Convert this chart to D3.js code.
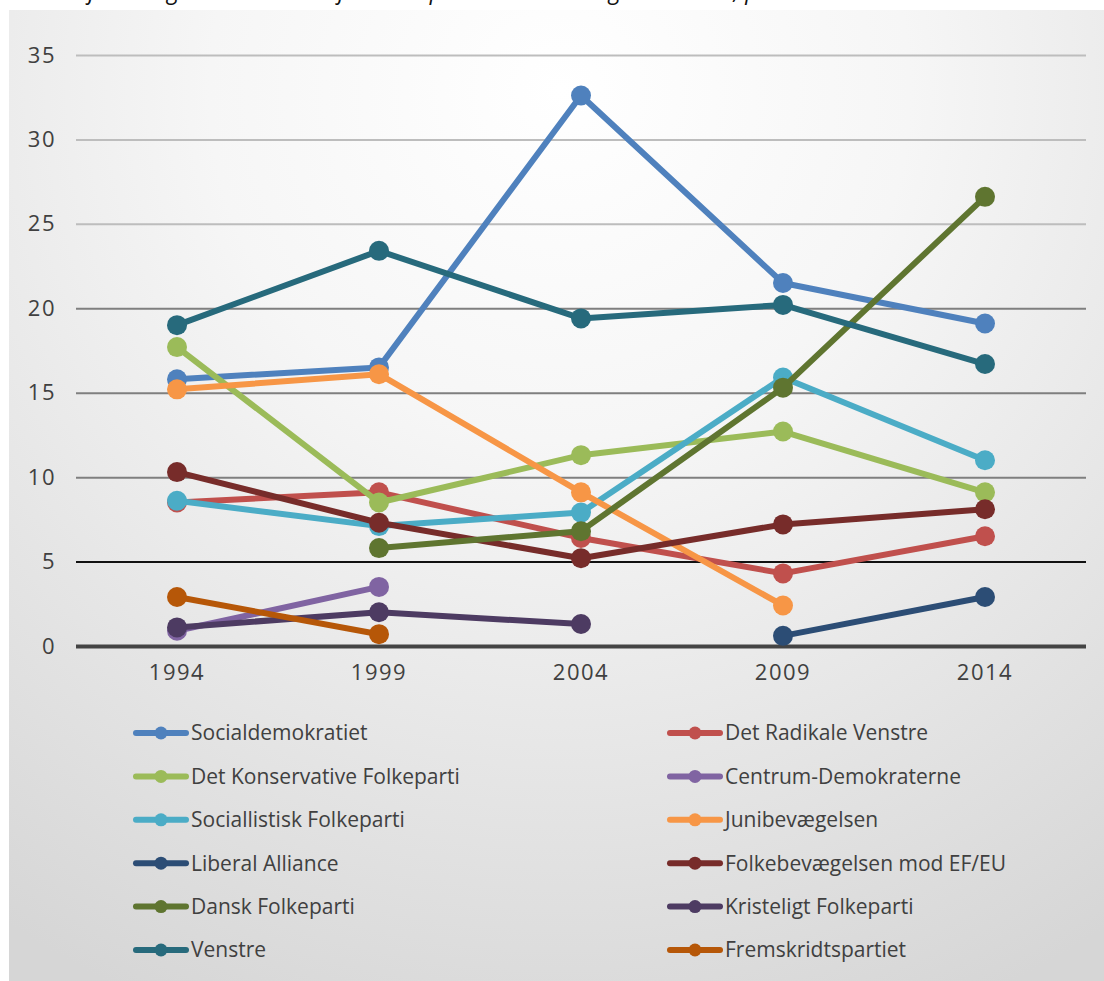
<!DOCTYPE html>
<html>
<head>
<meta charset="utf-8">
<script src="https://cdnjs.cloudflare.com/ajax/libs/d3/7.8.5/d3.min.js"></script>
<style>
  html, body { margin: 0; padding: 0; background: #fff; }
  svg { display: block; }
</style>
</head>
<body>
<div id="chart"></div>
<script>
// data
const years = ['1994', '1999', '2004', '2009', '2014'];
const yTicks = [0, 5, 10, 15, 20, 25, 30, 35];

const parties = [
  'Socialdemokratiet', 'Det Radikale Venstre', 'Det Konservative Folkeparti',
  'Centrum-Demokraterne', 'Sociallistisk Folkeparti', 'Junibevægelsen',
  'Liberal Alliance', 'Folkebevægelsen mod EF/EU', 'Dansk Folkeparti',
  'Kristeligt Folkeparti', 'Venstre', 'Fremskridtspartiet'
];

// one value per year, null where the party did not run
const socialdemokratiet = [15.8, 16.5, 32.6, 21.5, 19.1];
const radikaleVenstre   = [8.5, 9.1, 6.4, 4.3, 6.5];
const konservative      = [17.7, 8.5, 11.3, 12.7, 9.1];
const centrumDemokrater = [0.9, 3.5, null, null, null];
const sf                = [8.6, 7.1, 7.9, 15.9, 11.0];
const junibevaegelsen   = [15.2, 16.1, 9.1, 2.4, null];
const liberalAlliance   = [null, null, null, 0.6, 2.9];
const folkebevaegelsen  = [10.3, 7.3, 5.2, 7.2, 8.1];
const danskFolkeparti   = [null, 5.8, 6.8, 15.3, 26.6];
const kristeligt        = [1.1, 2.0, 1.3, null, null];
const venstre           = [19.0, 23.4, 19.4, 20.2, 16.7];
const fremskridt        = [2.9, 0.7, null, null, null];

const seriesValues = [
  socialdemokratiet, radikaleVenstre, konservative, centrumDemokrater, sf,
  junibevaegelsen, liberalAlliance, folkebevaegelsen, danskFolkeparti,
  kristeligt, venstre, fremskridt
];

const colors = [
  '#4f81bd', '#c0504d', '#9bbb59', '#8064a2', '#4bacc6', '#f79646',
  '#2c4d75', '#772c2a', '#5f7530', '#4d3b62', '#276a7c', '#b65708'
];

const width = 1104, height = 981;

const svg = d3.select('#chart').append('svg')
    .attr('width', width)
    .attr('height', height);

// background panel with soft radial shading
const defs = svg.append('defs');
const grad = defs.append('radialGradient')
    .attr('id', 'bg')
    .attr('gradientUnits', 'userSpaceOnUse')
    .attr('cx', 560).attr('cy', 90).attr('r', 1000);
grad.append('stop').attr('offset', '0%').attr('stop-color', '#ffffff');
grad.append('stop').attr('offset', '35%').attr('stop-color', '#f6f6f6');
grad.append('stop').attr('offset', '100%').attr('stop-color', '#d6d6d6');

svg.append('rect')
    .attr('x', 9).attr('y', 10)
    .attr('width', width - 9).attr('height', height - 10)
    .attr('fill', 'url(#bg)');

// title, cut off by the top of the picture like in the source
svg.append('text')
    .attr('x', 6).attr('y', -1)
    .attr('font-family', 'Open Sans, sans-serif')
    .attr('font-style', 'italic')
    .attr('font-size', 23)
    .attr('fill', '#111')
    .text('Stemmefordeling ved de seneste fem Europa-Parlamentsvalg i Danmark, pct.');

const x = d3.scaleBand().domain(years).range([76, 1086]);
const y = d3.scaleLinear().domain([0, 35]).range([646, 55]);

const font = '"Open Sans", "DejaVu Sans", sans-serif';

// gridlines
const gridColor = v => v === 0 ? '#444' : v === 5 ? '#111' : v <= 20 ? '#7f7f7f' : '#bdbdbd';
const gridWidth = v => v === 0 ? 4 : 2;

const gridAxis = d3.axisLeft(y)
    .tickValues(yTicks)
    .tickSize(-(1086 - 76))
    .tickFormat('');

const grid = svg.append('g')
    .attr('transform', 'translate(76,0)')
    .call(gridAxis);
grid.select('.domain').remove();
grid.selectAll('.tick line')
    .attr('stroke', d => gridColor(d))
    .attr('stroke-width', d => gridWidth(d));

// y labels
const yAxis = svg.append('g')
    .attr('transform', 'translate(56,0)')
    .call(d3.axisLeft(y).tickValues(yTicks).tickSize(0).tickPadding(0));
yAxis.select('.domain').remove();
yAxis.selectAll('text')
    .attr('font-family', font)
    .attr('font-size', 22)
    .attr('letter-spacing', 1.5)
    .attr('fill', '#404040');

// x labels
const xAxis = svg.append('g')
    .attr('transform', 'translate(0,662)')
    .call(d3.axisBottom(x).tickSize(0).tickPadding(0));
xAxis.select('.domain').remove();
xAxis.selectAll('text')
    .attr('font-family', font)
    .attr('font-size', 22)
    .attr('letter-spacing', 1.5)
    .attr('fill', '#404040')
    .attr('dy', '0.8em');

// lines and markers
const cx = i => x(years[i]) + x.bandwidth() / 2;
const line = d3.line()
    .defined(d => d.v !== null)
    .x(d => cx(d.i))
    .y(d => y(d.v));

parties.forEach((name, k) => {
  const pts = seriesValues[k].map((v, i) => ({ v, i }));
  const g = svg.append('g');
  g.append('path')
      .datum(pts)
      .attr('d', line)
      .attr('fill', 'none')
      .attr('stroke', colors[k])
      .attr('stroke-width', 6)
      .attr('stroke-linejoin', 'round');
  g.selectAll('circle')
      .data(pts.filter(d => d.v !== null))
      .join('circle')
      .attr('cx', d => cx(d.i))
      .attr('cy', d => y(d.v))
      .attr('r', 10)
      .attr('fill', colors[k]);
});

// legend, two columns
const legend = svg.append('g');
parties.forEach((name, k) => {
  const col = k % 2, row = Math.floor(k / 2);
  const lx = col === 0 ? 133 : 667;
  const ly = 733 + row * 43.4;
  const item = legend.append('g').attr('transform', `translate(${lx},${ly})`);
  item.append('line')
      .attr('x1', 3).attr('x2', 53)
      .attr('stroke', colors[k])
      .attr('stroke-width', 6)
      .attr('stroke-linecap', 'round');
  item.append('circle')
      .attr('cx', 28).attr('r', 6.5)
      .attr('fill', colors[k]);
  item.append('text')
      .attr('x', 58)
      .attr('dy', '0.35em')
      .attr('font-family', font)
      .attr('font-size', 21)
      .attr('fill', '#404040')
      .text(name);
});
</script>
</body>
</html>
